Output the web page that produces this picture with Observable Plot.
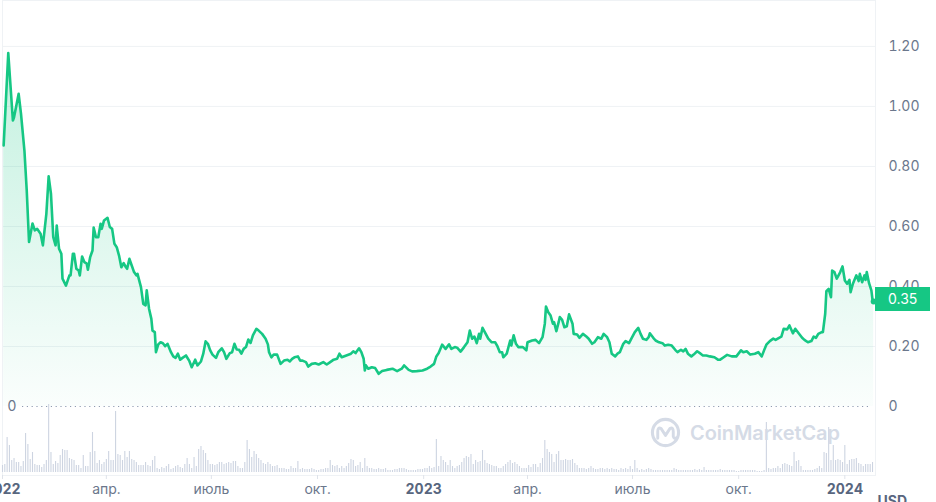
<!DOCTYPE html>
<html><head><meta charset="utf-8">
<script src="https://cdn.jsdelivr.net/npm/d3@7"></script>
<script src="https://cdn.jsdelivr.net/npm/@observablehq/plot@0.6"></script>
<style>
html,body{margin:0;padding:0;background:#fff;}
#wrap{position:relative;width:936px;height:502px;overflow:hidden;background:#fff;font-family:Inter,"Noto Sans",sans-serif;}
#wrap svg{position:absolute;left:0;top:0;}
</style></head><body><div id="wrap"></div>
<script>
// ---------- data ----------
const startDate = "2022-01-01";
const endDate = "2024-01-27T14:00:00Z";
// day offsets from startDate
const priceDays = [
 1,5,9,10,14,16,19,21,23,26, 28,30,33,35,38,40,42,44,46,47,
 49,51,52,55,58,59,61,62,64,66, 67,69,71,73,74,76,78,79,81,83,
 85,86,88,91,93,95,97,99,101,103, 105,107,108,110,112,114,116,117,120,122,
 124,125,127,129,130,132,133,135,137,139, 141,143,146,148,150,152,154,156,159,162,
 164,167,169,172,174,176,178,180,182,185, 187,190,192,194,197,199,201,203,205,207,
 209,211,213,215,217,220,222,225,228,230, 231,233,235,238,241,244,247,249,251,253,
 256,258,260,263,265,268,271,274,278,281, 284,287,290,292,294,298,302,304,306,309,
 311,313,314,315,317,320,323,326,329,333, 338,342,346,348,352,355,359,364,368,371,
 374,376,378,381,384,387,389,392,394,397, 400,403,405,407,409,411,413,414,416,418,
 421,424,427,429,431,433,434,437,440,441, 443,445,447,451,454,455,459,462,465,468,
 470,471,473,475,477,478,480,482,483,485, 487,489,491,494,495,498,500,503,506,508,
 511,513,516,519,521,524,526,528,531,533, 535,538,540,543,545,548,551,553,555,558,
 560,561,564,566,569,572,574,577,580,583, 585,588,590,592,594,597,599,602,605,607,
 610,613,617,620,622,625,628,632,636,640, 642,645,648,652,655,658,660,662,665,668,
 670,673,675,677,680,682,685,687,690,693, 695,698,701,703,705,707,710,711,713,714,
 716,718,719,721,723,725,726,728,730,732, 734,735,737,740,742,743,745,747,748,749,
 751,753,754,755
];
const priceValues = [
 0.87,1.178,0.953,0.964,1.042,0.977,0.853,0.72,0.548,0.61, 0.587,0.592,0.576,0.537,0.642,0.767,0.709,0.564,0.537,0.603,
 0.526,0.509,0.426,0.403,0.437,0.437,0.509,0.509,0.459,0.453, 0.437,0.5,0.481,0.476,0.456,0.498,0.52,0.596,0.564,0.564,
 0.609,0.592,0.62,0.629,0.598,0.592,0.542,0.531,0.503,0.464, 0.478,0.464,0.459,0.492,0.47,0.448,0.437,0.442,0.398,0.342,
 0.337,0.387,0.326,0.292,0.253,0.248,0.181,0.207,0.214,0.211, 0.201,0.209,0.181,0.167,0.162,0.176,0.156,0.162,0.17,0.151,
 0.131,0.156,0.137,0.15,0.176,0.217,0.209,0.187,0.173,0.162, 0.181,0.194,0.181,0.159,0.178,0.181,0.209,0.19,0.189,0.176,
 0.192,0.198,0.223,0.212,0.237,0.259,0.253,0.242,0.226,0.207, 0.181,0.164,0.173,0.173,0.142,0.153,0.156,0.15,0.159,0.164,
 0.167,0.153,0.153,0.148,0.133,0.142,0.144,0.14,0.148,0.14, 0.148,0.156,0.159,0.176,0.164,0.17,0.176,0.184,0.178,0.194,
 0.181,0.159,0.12,0.137,0.126,0.131,0.128,0.109,0.118,0.122, 0.126,0.118,0.126,0.137,0.122,0.117,0.118,0.12,0.126,0.133,
 0.142,0.167,0.178,0.206,0.192,0.207,0.192,0.198,0.196,0.183, 0.198,0.214,0.253,0.226,0.233,0.211,0.242,0.226,0.262,0.248,
 0.226,0.214,0.214,0.2,0.181,0.181,0.164,0.176,0.22,0.203, 0.237,0.209,0.198,0.198,0.187,0.214,0.22,0.222,0.211,0.231,
 0.276,0.333,0.314,0.303,0.276,0.281,0.251,0.281,0.298,0.289, 0.264,0.267,0.307,0.276,0.242,0.24,0.229,0.242,0.233,0.226,
 0.209,0.214,0.231,0.226,0.242,0.231,0.214,0.176,0.167,0.176, 0.181,0.209,0.218,0.211,0.226,0.248,0.262,0.242,0.226,0.222,
 0.231,0.244,0.229,0.22,0.214,0.211,0.203,0.206,0.203,0.189, 0.181,0.189,0.184,0.192,0.176,0.167,0.173,0.184,0.176,0.17,
 0.17,0.167,0.164,0.156,0.156,0.164,0.172,0.167,0.167,0.187, 0.181,0.184,0.173,0.176,0.181,0.167,0.187,0.206,0.218,0.226,
 0.222,0.229,0.233,0.259,0.257,0.27,0.244,0.259,0.244,0.229, 0.222,0.214,0.218,0.233,0.229,0.242,0.248,0.248,0.309,0.384,
 0.392,0.364,0.453,0.448,0.426,0.44,0.448,0.467,0.42,0.409, 0.422,0.381,0.409,0.437,0.418,0.442,0.414,0.437,0.422,0.448,
 0.411,0.387,0.356,0.35
];
// trading volume (estimated, millions USD), one bar every volumeStepDays from startDate
const volumeStepDays = 2;
const volumes = [
 7,8,35,27,12,14,10,10,6,11, 39,28,13,20,8,7,7,5,8,12, 68,20,8,11,9,17,23,22,22,14, 13,12,7,7,4,17,6,6,20,40,
 21,9,12,8,10,13,21,12,12,61, 18,17,12,21,15,21,13,12,10,7, 7,7,10,7,6,12,16,4,3,5, 4,6,8,3,4,6,7,5,4,8,
 14,8,4,15,6,23,26,22,19,12, 8,8,7,8,10,10,8,9,10,9, 11,11,6,4,4,10,32,23,15,21, 18,14,12,9,8,10,8,6,6,7,
 4,4,4,3,3,6,4,4,11,3, 4,3,3,3,4,3,2,2,3,3, 4,4,12,7,6,7,4,6,4,6, 9,13,12,6,7,10,4,14,6,4,
 4,3,3,4,3,3,4,2,2,2, 3,3,4,4,4,3,2,2,2,2, 3,3,3,4,4,6,4,5,33,6, 16,12,10,7,12,6,4,6,7,10,
 14,16,15,18,8,12,10,11,22,12, 9,8,7,6,6,4,4,6,8,10, 12,9,10,8,6,4,4,4,7,5, 8,8,5,9,14,32,23,20,18,10,
 18,21,12,12,13,12,12,13,9,7, 4,4,4,3,4,6,4,3,3,4, 4,3,4,3,4,3,3,2,4,3, 4,3,6,3,12,4,2,3,2,3,
 4,3,2,2,2,2,2,2,2,2, 2,4,3,2,2,2,2,2,2,2, 3,2,3,2,5,2,2,2,2,2, 2,3,2,2,2,2,2,2,1,1,
 2,2,2,2,2,2,2,1,1,1, 2,50,4,3,4,4,6,4,8,9, 8,7,6,20,11,12,6,2,2,2, 2,2,3,4,6,4,20,19,45,12,
 27,12,13,12,10,27,8,12,13,13, 14,9,8,6,8,8,8,10
];
const priceTicks = [0, 0.2, 0.4, 0.6, 0.8, 1.0, 1.2];
const monthTicks = ["2022-04-01","2022-07-01","2022-10-01","2023-04-01","2023-07-01","2023-10-01"];
const monthLabels = ["апр.","июль","окт.","апр.","июль","окт."];
const yearTicks = ["2022-01-01","2023-01-01","2024-01-01"];
const yearLabels = ["2022","2023","2024"];
const currency = "USD";
const watermarkText = "CoinMarketCap";

// ---------- build ----------
const t0 = new Date(startDate);
const tEnd = new Date(endDate);
const price = priceDays.map((d, i) => ({date: d3.utcDay.offset(t0, d), value: priceValues[i]}));
const vol = volumes.map((v, i) => ({date: d3.utcDay.offset(t0, i * volumeStepDays), volume: v}));
const monthMap = new Map(monthTicks.map((d, i) => [+new Date(d), monthLabels[i]]));
const yearMap = new Map(yearTicks.map((d, i) => [+new Date(d), yearLabels[i]]));

const W = 936, H = 502;
const GREEN = "#16c784", TEXT = "#6b778c", GRID = "#eff2f5";
const font = "Inter, 'Noto Sans', sans-serif";

const main = Plot.plot({
  width: W, height: H,
  marginLeft: 2, marginRight: 61, marginTop: 0, marginBottom: 27,
  style: {fontFamily: font, fontSize: "14px", background: "transparent", overflow: "visible"},
  x: {type: "utc", domain: [t0, tEnd], label: null},
  y: {domain: [0, 1.353], range: [406, 0], label: null},
  marks: [
    Plot.frame({stroke: GRID}),
    Plot.ruleY(priceTicks.filter(d => d > 0), {stroke: GRID}),
    Plot.areaY(price, {x: "date", y: "value", fill: "url(#cmcGrad)"}),
    Plot.ruleY([0], {stroke: "#8f9bb0", strokeDasharray: "1.2,3.6", insetLeft: 20, insetRight: 7}),
    Plot.lineY(price, {x: "date", y: "value", stroke: GREEN, strokeWidth: 2.6, strokeLinejoin: "round", strokeLinecap: "round"}),
    Plot.dot(price.slice(-1), {x: "date", y: "value", r: 3, fill: GREEN}),
    Plot.axisY({anchor: "right", label: null, ticks: priceTicks, tickSize: 0, tickPadding: 13,
      tickFormat: d => d === 0 ? "0" : d.toFixed(2), fill: TEXT}),
    Plot.text([0], {y: d => d, frameAnchor: "left", dx: 5, textAnchor: "start", text: () => "0", fill: TEXT}),
    Plot.axisX({label: null, ticks: monthTicks.map(d => new Date(d)), tickFormat: d => monthMap.get(+d),
      tickSize: 4, tickPadding: 5, stroke: "#dfe3ea", fill: TEXT}),
    Plot.axisX({label: null, ticks: yearTicks.map(d => new Date(d)), tickFormat: d => yearMap.get(+d),
      tickSize: 4, tickPadding: 5, stroke: "#dfe3ea", fill: "#58667e", fontWeight: 700}),
    Plot.text([currency], {frameAnchor: "bottom-right", textAnchor: "start", lineAnchor: "top",
      dx: 2, dy: 21, fontWeight: 700, fill: "#58667e"})
  ]
});
const defs = d3.select(main).insert("defs", ":first-child");
const grad = defs.append("linearGradient").attr("id", "cmcGrad")
  .attr("x1", 0).attr("y1", 0).attr("x2", 0).attr("y2", 1);
grad.append("stop").attr("offset", "0%").attr("stop-color", GREEN).attr("stop-opacity", 0.26);
grad.append("stop").attr("offset", "100%").attr("stop-color", GREEN).attr("stop-opacity", 0.02);

const volPlot = Plot.plot({
  width: W, height: H,
  marginLeft: 2, marginRight: 61, marginTop: 0, marginBottom: 0,
  style: {background: "transparent"},
  x: {type: "utc", domain: [t0, tEnd], axis: null},
  y: {domain: [0, 70], range: [472, 402], axis: null},
  marks: [
    Plot.ruleX(vol, {x: "date", y1: () => 0, y2: "volume", stroke: "#cdd4e1", strokeWidth: 1.1})
  ]
});

const wrap = document.getElementById("wrap");
wrap.appendChild(main);
wrap.appendChild(volPlot);

// watermark
const wm = document.createElement("div");
wm.style.cssText = "position:absolute;left:650px;top:417px;display:flex;align-items:center;gap:9px;pointer-events:none;";
wm.innerHTML = `<svg width="31" height="31" viewBox="-16 -16 32 32" style="position:static">
  <circle r="13.5" fill="none" stroke="#d5dbe6" stroke-width="3.2"/>
  <path d="M-8,6 L-8,-1 Q-8,-6 -4.5,-4 L0,3 L4.5,-4 Q8,-6 8,-1 L8,4 Q8.5,7 11.5,5.5" fill="none" stroke="#d5dbe6" stroke-width="3" stroke-linecap="round" stroke-linejoin="round"/>
</svg><span style="font:600 20px ${font};color:#d5dbe6;letter-spacing:-0.1px;">${watermarkText}</span>`;
wrap.appendChild(wm);

// current price badge
const last = priceValues[priceValues.length - 1];
const py = main.scale("y").apply(last);
const badge = document.createElement("div");
badge.textContent = last.toFixed(2);
badge.style.cssText = `position:absolute;left:875px;top:${py - 14}px;width:55px;height:24px;background:${GREEN};color:#fff;font:400 14px ${font};line-height:24px;padding-left:13px;box-sizing:border-box;`;
wrap.appendChild(badge);
</script>
</body></html>
